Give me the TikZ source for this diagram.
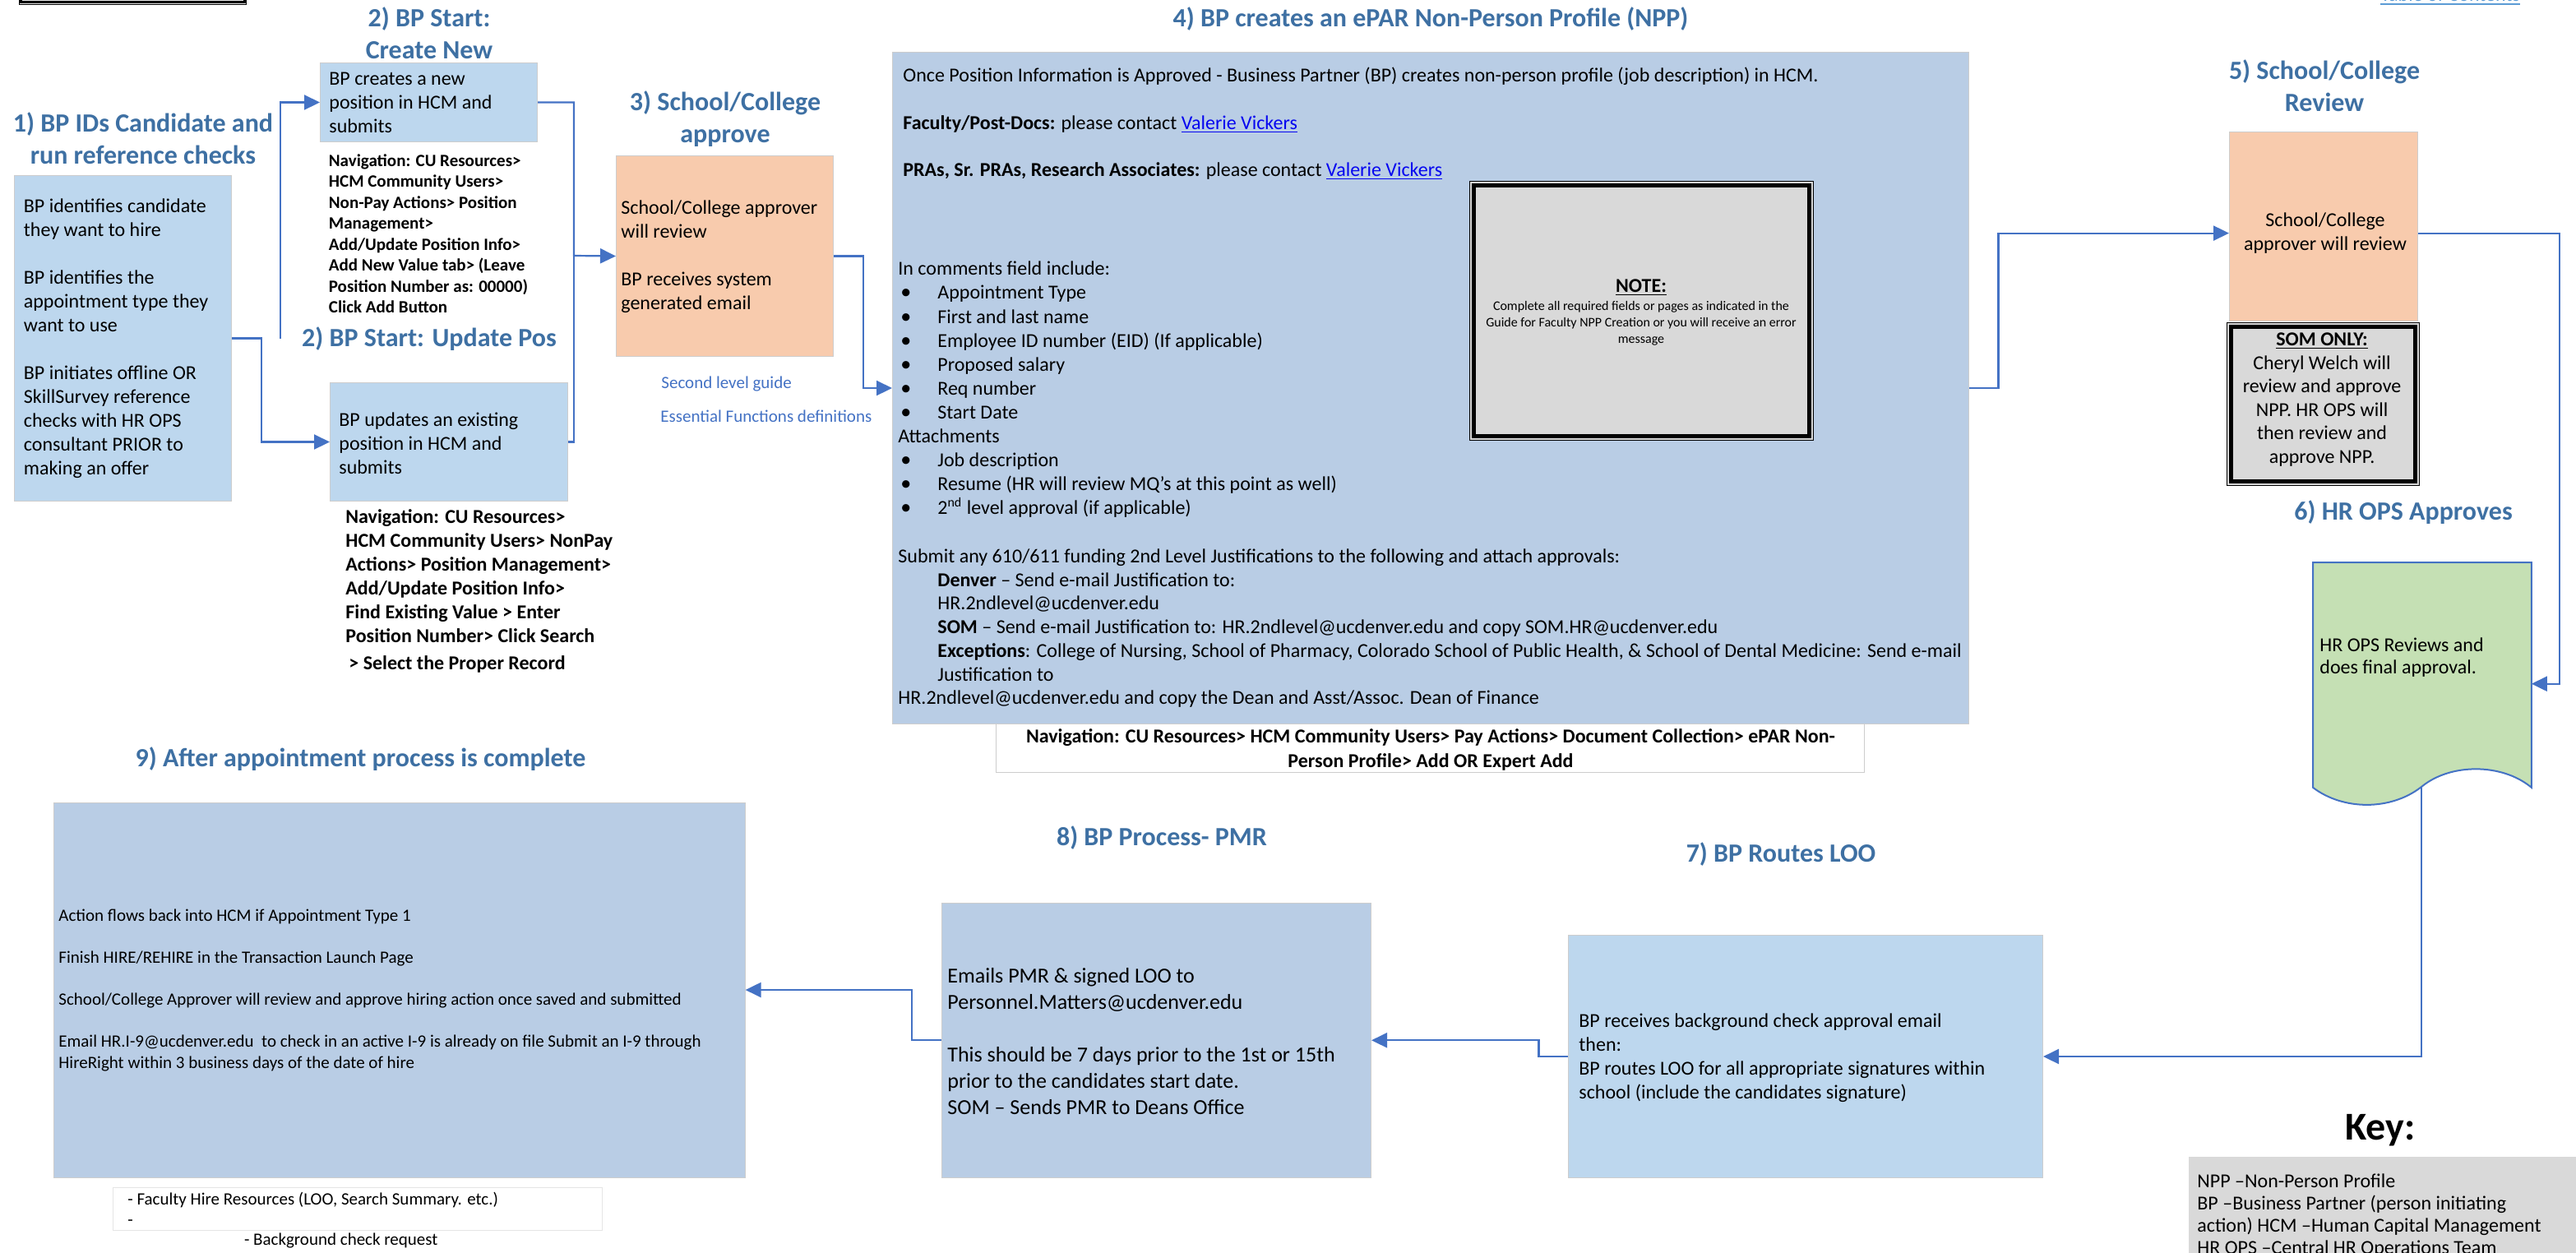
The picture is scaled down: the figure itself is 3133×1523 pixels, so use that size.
\documentclass[tikz,border=0pt]{standalone}
\usepackage{fontspec}
\setmainfont{Carlito}
\usetikzlibrary{arrows.meta}
\definecolor{hdblue}{RGB}{62,112,163}
\definecolor{connblue}{RGB}{68,114,196}
\definecolor{linkblue}{RGB}{5,5,240}
\definecolor{tocblue}{RGB}{91,155,213}
\definecolor{boxA}{RGB}{189,215,238}
\definecolor{boxB}{RGB}{185,205,229}
\definecolor{peach}{RGB}{248,203,173}
\definecolor{mint}{RGB}{197,224,180}
\definecolor{notegray}{RGB}{217,217,217}
\definecolor{edge}{RGB}{205,205,205}
\newcommand{\vlink}[1]{\textcolor{linkblue}{\underline{#1}}}
\newcommand{\bul}{\makebox[22.5pt][l]{{\fontsize{13}{13}\selectfont\textbullet}}}
\begin{document}
\begin{tikzpicture}[x=0.5pt,y=-0.5pt,
  bx/.style={rectangle, draw=edge, line width=0.5pt, inner sep=0pt, anchor=north west},
  tx/.style={inner sep=0pt, align=left, anchor=west, font=\fontsize{12}{14.5}\selectfont},
  ln/.style={inner sep=0pt, anchor=base west, font=\fontsize{12}{14.5}\selectfont},
  hd/.style={inner sep=0pt, align=center, text=hdblue, font=\bfseries\fontsize{16}{19.5}\selectfont},
  navs/.style={inner sep=0pt, align=left, anchor=west, font=\bfseries\fontsize{10.5}{12.75}\selectfont},
  lnk/.style={inner sep=0pt, anchor=west, text=connblue, font=\fontsize{10.5}{12.75}\selectfont},
  ctx/.style={inner sep=0pt, align=center, font=\fontsize{12}{14.5}\selectfont},
  conn/.style={draw=connblue, line width=1.1pt, -{Triangle[length=9.5pt,width=9pt]}},
  wire/.style={draw=connblue, line width=1.1pt},
  thickframe/.style={line width=2.5pt, draw=black}]
\useasboundingbox (0,0) rectangle (3133,1523);

% top-left framed box (mostly outside the page)
\node[bx, draw=black, fill=black!8, minimum width=138pt, minimum height=60pt, anchor=south west] (topbox) at (23,5.5) {};
\draw[line width=1.6pt] ([xshift=1.4pt,yshift=-1.4pt]topbox.north west) rectangle ([xshift=-1.4pt,yshift=1.4pt]topbox.south east);

% Table of contents link
\node[inner sep=0pt, anchor=base west, text=tocblue, font=\fontsize{12}{14}\selectfont] (toc) at (2895,1) {Table of Contents};
\draw[tocblue, line width=0.7pt] (toc.base west |- 0,5) -- (toc.base east |- 0,5);

% ---- 1
\node[hd] (h1) at (174,168.5) {1) BP IDs Candidate and\\run reference checks};
\node[bx, fill=boxA, minimum width=132pt, minimum height=198pt] (b1) at (17,213) {};
\node[tx] (b1t) at (28.5,412) {BP identifies candidate\\they want to hire\\[14.5pt]BP identifies the\\appointment type they\\want to use\\[14.5pt]BP initiates offline OR\\SkillSurvey reference\\checks with HR OPS\\consultant PRIOR to\\making an offer};

% ---- 2 create
\node[hd] (h2a) at (522,40.4) {2) BP Start:\\Create New};
\node[bx, fill=boxA, minimum width=132pt, minimum height=48pt] (b2a) at (389,76) {};
\node[tx] (b2at) at (400,125) {BP creates a new\\position in HCM and\\submits};
\node[navs] (n2a) at (399.5,284) {Navigation: CU Resources>\\HCM Community Users>\\Non-Pay Actions> Position\\Management>\\Add/Update Position Info>\\Add New Value tab> (Leave\\Position Number as: 00000)\\Click Add Button};

% ---- 2 update
\node[hd] (h2b) at (522,412) {2) BP Start: Update Pos};
\node[bx, fill=boxA, minimum width=144.5pt, minimum height=72pt] (b2b) at (401,465) {};
\node[tx] (b2bt) at (412,539) {BP updates an existing\\position in HCM and\\submits};
\node[tx, font=\bfseries\fontsize{12}{14.5}\selectfont] (n2b) at (420,719.4) {Navigation: CU Resources>\\HCM Community Users> NonPay\\Actions> Position Management>\\Add/Update Position Info>\\Find Existing Value > Enter\\Position Number> Click Search\\[2pt]\,> Select the Proper Record};

% ---- 3
\node[hd] (h3) at (882,145) {3) School/College\\approve};
\node[bx, fill=peach, minimum width=132pt, minimum height=122pt] (b3) at (749,189) {};
\node[tx] (b3t) at (755,312) {School/College approver\\will review\\[14.5pt]BP receives system\\generated email};
\node[lnk] (g1) at (804,467) {Second level guide};
\node[lnk] (g2) at (803,506) {Essential Functions definitions};

% ---- 4
\node[hd] (h4) at (1740,23) {4) BP creates an ePAR Non-Person Profile (NPP)};
\node[bx, fill=boxB, minimum width=654.5pt, minimum height=408.5pt] (b4) at (1085,63) {};
\node[ln] (l1) at (1098,99) {Once Position Information is Approved - Business Partner (BP) creates non-person profile (job description) in HCM.};
\node[ln] (l2) at (1098,157) {\textbf{Faculty/Post-Docs:} please contact \vlink{Valerie Vickers}};
\node[ln] (l3) at (1098,214) {\textbf{PRAs, Sr. PRAs, Research Associates:} please contact \vlink{Valerie Vickers}};
\node[ln] (l4) at (1092,334) {In comments field include:};
\node[ln] (l5) at (1095,363) {\bul Appointment Type};
\node[ln] (l6) at (1095,393) {\bul First and last name};
\node[ln] (l7) at (1095,422) {\bul Employee ID number (EID) (If applicable)};
\node[ln] (l8) at (1095,451) {\bul Proposed salary};
\node[ln] (l9) at (1095,480) {\bul Req number};
\node[ln] (l10) at (1095,509) {\bul Start Date};
\node[ln] (l11) at (1092,538) {Attachments};
\node[ln] (l12) at (1095,567) {\bul Job description};
\node[ln] (l13) at (1095,596) {\bul Resume (HR will review MQ’s at this point as well)};
\node[ln] (l14) at (1095,625) {\bul 2\textsuperscript{nd} level approval (if applicable)};
\node[ln] (l15) at (1092,684) {Submit any 610/611 funding 2nd Level Justifications to the following and attach approvals:};
\node[ln] (l16) at (1140,713) {\textbf{Denver} – Send e-mail Justification to:};
\node[ln] (l17) at (1140,741) {HR.2ndlevel@ucdenver.edu};
\node[ln] (l18) at (1140,770) {\textbf{SOM} – Send e-mail Justification to: HR.2ndlevel@ucdenver.edu and copy SOM.HR@ucdenver.edu};
\node[ln] (l19) at (1140,799) {\textbf{Exceptions}: College of Nursing, School of Pharmacy, Colorado School of Public Health, \& School of Dental Medicine: Send e-mail};
\node[ln] (l20) at (1140,828) {Justification to};
\node[ln] (l21) at (1092,856) {HR.2ndlevel@ucdenver.edu and copy the Dean and Asst/Assoc. Dean of Finance};

\node[bx, fill=notegray, draw=black, minimum width=209pt, minimum height=157.5pt] (note) at (1787,220) {};
\draw[thickframe] ([xshift=2.75pt,yshift=-2.75pt]note.north west) rectangle ([xshift=-2.75pt,yshift=2.75pt]note.south east);
\node[inner sep=0pt, font=\bfseries\fontsize{12}{14.5}\selectfont] (noteh) at (1996,350) {\underline{NOTE:}};
\node[inner sep=0pt, align=center, font=\fontsize{8}{10}\selectfont] (notet) at (1996,393) {Complete all required fields or pages as indicated in the\\Guide for Faculty NPP Creation or you will receive an error\\message};

\node[bx, fill=white, minimum width=528pt, minimum height=29.5pt] (nav4) at (1211,880) {};
\node[inner sep=0pt, align=center, font=\bfseries\fontsize{12}{15}\selectfont] (n4) at (1740,912) {Navigation: CU Resources> HCM Community Users> Pay Actions> Document Collection> ePAR Non-\\Person Profile> Add OR Expert Add};

% ---- 5
\node[hd] (h5) at (2827,104) {5) School/College\\Review};
\node[bx, fill=peach, minimum width=114.5pt, minimum height=115pt] (b5) at (2711,160) {};
\node[ctx] (b5t) at (2828,284) {School/College\\approver will review};
\node[bx, fill=notegray, draw=black, minimum width=117pt, minimum height=99pt] (som) at (2708,392) {};
\draw[thickframe] ([xshift=2.75pt,yshift=-2.75pt]som.north west) rectangle ([xshift=-2.75pt,yshift=2.75pt]som.south east);
\node[inner sep=0pt, align=center, font=\fontsize{12}{14.25}\selectfont] (somt) at (2824,486) {\textbf{\underline{SOM ONLY:}}\\Cheryl Welch will\\review and approve\\NPP. HR OPS will\\then review and\\approve NPP.};

% ---- 6
\node[hd] (h6) at (2923,623) {6) HR OPS Approves};
\node[inner sep=0pt, minimum width=132.5pt, minimum height=136.5pt, anchor=north west] (doc) at (2813,684) {};
\path[fill=mint, draw=connblue, line width=1pt] (doc.north west) -- (doc.north east) -- (doc.south east) .. controls (3043,928) and (2980,928) .. (2945,957) .. controls (2908,986) and (2850,986) .. (doc.south west) -- cycle;
\coordinate (docb) at (2945,957);
\node[tx, font=\fontsize{12}{13.65}\selectfont] (doct) at (2821,799.5) {HR OPS Reviews and\\does final approval.};

% ---- 7
\node[hd] (h7) at (2166,1039) {7) BP Routes LOO};
\node[bx, fill=boxA, minimum width=288.5pt, minimum height=147.5pt] (b7) at (1907,1137) {};
\node[tx] (b7t) at (1920,1287) {BP receives background check approval email\\then:\\BP routes LOO for all appropriate signatures within\\school (include the candidates signature)};

% ---- 8
\node[hd] (h8) at (1413,1019) {8) BP Process- PMR};
\node[bx, fill=boxB, minimum width=261pt, minimum height=167.25pt] (b8) at (1145,1097.5) {};
\node[tx, font=\fontsize{13}{16}\selectfont] (b8t) at (1152,1266.5) {Emails PMR \& signed LOO to\\Personnel.Matters@ucdenver.edu\\[16pt]This should be 7 days prior to the 1st or 15th\\prior to the candidates start date.\\SOM – Sends PMR to Deans Office};

% ---- 9
\node[hd] (h9) at (438.5,923) {9) After appointment process is complete};
\node[bx, fill=boxB, minimum width=420.3pt, minimum height=228pt] (b9) at (65,975.5) {};
\node[tx, font=\fontsize{10.5}{12.75}\selectfont] (b9t) at (71,1204.5) {Action flows back into HCM if Appointment Type 1\\[12.75pt]Finish HIRE/REHIRE in the Transaction Launch Page\\[12.75pt]School/College Approver will review and approve hiring action once saved and submitted\\[12.75pt]Email HR.I-9@ucdenver.edu\ \ to check in an active I-9 is already on file Submit an I-9 through\\HireRight within 3 business days of the date of hire};
\node[bx, fill=white, draw=black!10, minimum width=297.25pt, minimum height=26pt] (nav9) at (137,1443.7) {};
\node[tx, font=\fontsize{10.5}{12.5}\selectfont] (n9) at (155,1470.5) {- Faculty Hire Resources (LOO, Search Summary. etc.)\\-};
\node[tx, font=\fontsize{10.5}{12.5}\selectfont] (bgc) at (296.6,1509) {- Background check request};

% ---- Key
\node[inner sep=0pt, font=\bfseries\fontsize{24}{28}\selectfont] (keyh) at (2895,1375) {Key:};
\node[rectangle, fill=notegray, inner sep=0pt, anchor=north west, minimum width=245pt, minimum height=70pt] (keyb) at (2662,1407) {};
\node[inner sep=0pt, align=left, anchor=north west, font=\fontsize{12}{13.5}\selectfont] (keyt) at (2672,1427) {NPP –Non-Person Profile\\BP –Business Partner (person initiating\\action) HCM –Human Capital Management\\HR OPS –Central HR Operations Team};

% ---- connectors
\draw[conn] (b1.east) -- ++(36,0) |- (b2b.west);
\coordinate (c2) at (341,412);
\draw[conn] (c2) |- (b2a.west);
\coordinate (j3) at (698,311);
\draw[conn] (b2a.east) -| (j3) -- (b3.west);
\draw[wire] (b2b.east) -| (j3);
\draw[conn] (b3.east) -- ++(36,0) |- (b4.west);
\draw[conn] (b4.east) -- ++(35.5,0) |- (b5.west |- 0,283.6);
\coordinate (j6) at (3113,831.7);
\draw[conn] (b5.east |- 0,283.6) -| (j6) -- (doc.east |- j6);
\draw[conn] (docb) |- (b7.east);
\draw[conn] (b7.west) -- ++(-35.5,0) |- (b8.east);
\draw[conn] (b8.west) -- ++(-36,0) |- (b9.east);
\end{tikzpicture}
\end{document}
